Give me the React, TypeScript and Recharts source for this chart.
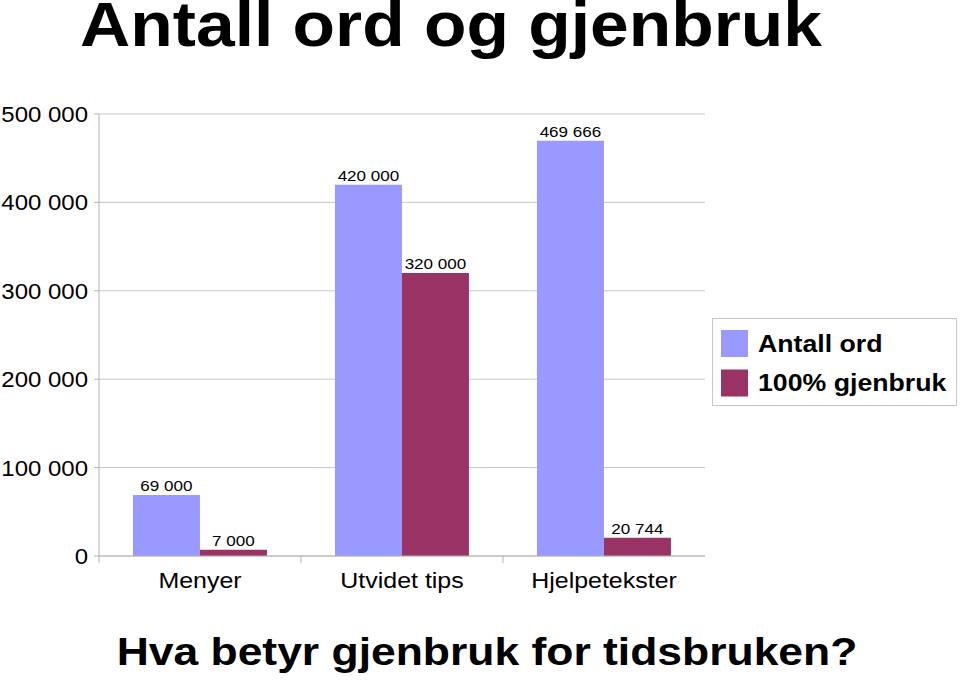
import React from "react";
import { BarChart, Bar, XAxis, YAxis, CartesianGrid, Legend, LabelList } from "recharts";

const categories = ["Menyer", "Utvidet tips", "Hjelpetekster"];
const antallOrd = [69000, 420000, 469666];
const gjenbruk = [7000, 320000, 20744];
const yTicks = [0, 100000, 200000, 300000, 400000, 500000];
const seriesNames = ["Antall ord", "100% gjenbruk"];
const seriesColors = ["#9999ff", "#993366"];
const title = "Antall ord og gjenbruk";
const subtitle = "Hva betyr gjenbruk for tidsbruken?";

const data = categories.map((c, i) => ({ name: c, a: antallOrd[i], b: gjenbruk[i] }));

const FONT = "'Liberation Sans', Arial, sans-serif";

const fmt = (v: number) => String(v).replace(/\B(?=(\d{3})+(?!\d))/g, " ");

const YTick = (props: any) => {
  const { x, y, payload } = props;
  return (
    <text transform={`translate(${x},${y + 8}) scale(1.09,1)`} textAnchor="end" fontSize={22} fontFamily={FONT} fill="#000">
      {fmt(payload.value)}
    </text>
  );
};

const XTick = (props: any) => {
  const { x, y, payload } = props;
  const off = payload && typeof payload.offset === "number" ? payload.offset : 0;
  return (
    <g>
      {off ? <line x1={x - off} x2={x - off} y1={y - 7} y2={y} stroke="#b3b3b3" strokeWidth={1} /> : null}
      <text transform={`translate(${x},${y + 25}) scale(1.11,1)`} textAnchor="middle" fontSize={22.5} fontFamily={FONT} fill="#000">
        {payload.value}
      </text>
    </g>
  );
};

const DataLabel = (props: any) => {
  const { x, y, width, value } = props;
  return (
    <text transform={`translate(${x + width / 2},${y - 4}) scale(1.1,1)`} textAnchor="middle" fontSize={15.5} fontFamily={FONT} fill="#000">
      {fmt(value)}
    </text>
  );
};

const LegendBox = (props: any) => {
  const raw = props.payload || [];
  const payload = seriesNames
    .map((n) => raw.find((p: any) => p.value === n))
    .filter(Boolean);
  return (
    <svg width={245} height={88} style={{ display: "block" }}>
      <rect x={0.5} y={0.5} width={244} height={87} fill="#fff" stroke="#c8c8c8" strokeWidth={1} />
      {payload.map((p: any, i: number) => (
        <g key={i}>
          <rect x={9} y={12 + i * 39.5} width={27} height={27} fill={p.color} />
          <text transform={`translate(46,${33.7 + i * 39.3}) scale(1.09,1)`} fontSize={24.5} fontWeight="bold" fontFamily={FONT} fill="#000">
            {p.value}
          </text>
        </g>
      ))}
    </svg>
  );
};

export default function App() {
  return (
    <div style={{ position: "absolute", left: 0, top: 0, width: 960, height: 681, background: "#fff" }}>
      <BarChart
        width={960}
        height={681}
        data={data}
        margin={{ top: 114, right: 255, bottom: 85, left: 0 }}
        barCategoryGap="16.8%"
        barGap={0}
      >
        <CartesianGrid vertical={false} stroke="#c8c8c8" strokeWidth={1} />
        <XAxis
          dataKey="name"
          height={40}
          tickLine={false}
          tickSize={7}
          tickMargin={0}
          axisLine={{ stroke: "#b3b3b3" }}
          tick={<XTick />}
          interval={0}
        />
        <YAxis
          width={99}
          domain={[0, 500000]}
          ticks={yTicks}
          interval={0}
          tickSize={5}
          tickMargin={6}
          tickLine={{ stroke: "#b3b3b3" }}
          axisLine={{ stroke: "#b3b3b3" }}
          tick={<YTick />}
        />
        <Legend
          layout="vertical"
          align="center"
          verticalAlign="middle"
          wrapperStyle={{ left: 712, top: 318, width: 245, height: 88 }}
          content={<LegendBox />}
        />
        <Bar dataKey="a" name={seriesNames[0]} fill={seriesColors[0]} isAnimationActive={false}>
          <LabelList dataKey="a" content={<DataLabel />} />
        </Bar>
        <Bar dataKey="b" name={seriesNames[1]} fill={seriesColors[1]} isAnimationActive={false}>
          <LabelList dataKey="b" content={<DataLabel />} />
        </Bar>
      </BarChart>
      <svg width={960} height={681} style={{ position: "absolute", left: 0, top: 0, pointerEvents: "none" }}>
        <text transform={`translate(451,46) scale(1.122,1)`} textAnchor="middle" fontSize={62} fontWeight="bold" fontFamily={FONT} fill="#000">
          {title}
        </text>
        <text transform={`translate(487,665) scale(1.14,1)`} textAnchor="middle" fontSize={39} fontWeight="bold" fontFamily={FONT} fill="#000">
          {subtitle}
        </text>
      </svg>
    </div>
  );
}
